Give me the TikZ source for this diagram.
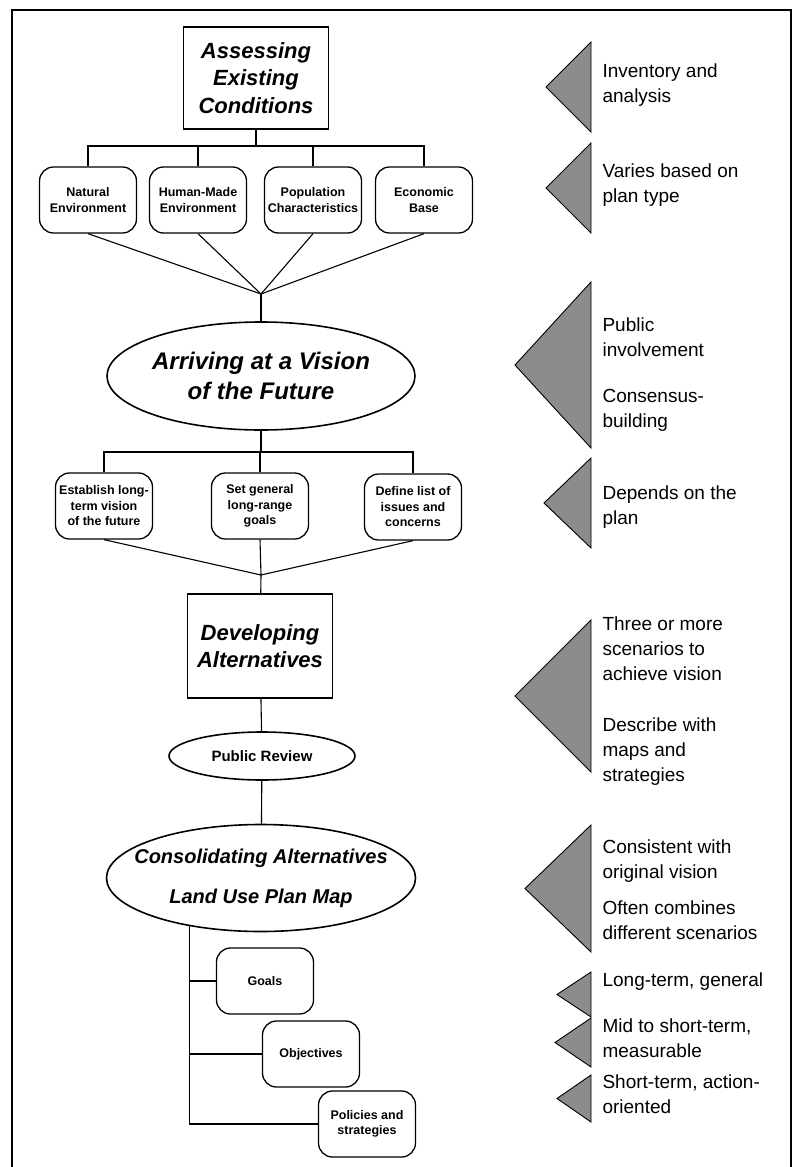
\documentclass[tikz,border=0pt]{standalone}
\usepackage{fontspec}
\setmainfont{Liberation Sans}
\usetikzlibrary{shapes.geometric}

\begin{document}
\begin{tikzpicture}[x=1pt,y=-1pt,line width=1.1pt,
  mainbox/.style={draw,line width=1.3pt,align=center,inner sep=0pt,font=\fontsize{22}{27.5}\selectfont\bfseries\itshape},
  mainoval/.style={draw,ellipse,line width=1.6pt,align=center,inner xsep=-18pt,inner ysep=0pt},
  subbox/.style={draw,rounded corners=14pt,line width=1.3pt,align=center,inner sep=0pt,minimum width=97,minimum height=66,font=\fontsize{12.5}{15.5}\selectfont\bfseries},
  note/.style={anchor=west,align=left,inner sep=0pt,font=\fontsize{19}{25}\selectfont},
  wedge/.style={draw,line width=0.9pt,fill=black!45}]
\useasboundingbox (0,0) rectangle (796,1167);
% outer frame
\draw[line width=2.4pt] (12,1167) -- (12,10) -- (791,10) -- (791,1167);

% existing conditions
\node[mainbox,minimum width=145,minimum height=102] (assess) at (256,78) {Assessing\\Existing\\Conditions};
\node[subbox] (natural) at (88,200) {Natural\\Environment};
\node[subbox] (humanmade) at (198,200) {Human-Made\\Environment};
\node[subbox] (population) at (313,200) {Population\\Characteristics};
\node[subbox] (economic) at (424,200) {Economic\\Base};
\coordinate (bar1) at (256,146);
\coordinate (join1) at (261,294);
\draw (assess) -- (bar1);
\draw (natural.north) |- (bar1) -| (economic.north);
\draw (humanmade.north) -- (humanmade.north |- bar1);
\draw (population.north) -- (population.north |- bar1);
\foreach \n in {natural,humanmade,population,economic}
  \draw (\n.south) -- (join1);

% vision
\node[mainoval,minimum width=308,minimum height=108,font=\fontsize{24}{30}\selectfont\bfseries\itshape] (vision) at (261,376) {Arriving at a Vision\\of the Future};
\draw (join1) -- (vision);
\node[subbox] (establish) at (104,506) {Establish long-\\term vision\\of the future};
\node[subbox] (setgoals) at (260,506) {Set general\\long-range\\goals};
\node[subbox] (define) at (413,507) {Define list of\\issues and\\concerns};
\coordinate (bar2) at (261,452);
\coordinate (join2) at (261,575);
\draw (vision) -- (bar2);
\draw (establish.north) |- (bar2) -| (define.north);
\draw (setgoals.north) -- (setgoals.north |- bar2);
\foreach \n in {establish,setgoals,define}
  \draw (\n.south) -- (join2);

% alternatives
\node[mainbox,minimum width=145,minimum height=104] (develop) at (260,646) {Developing\\Alternatives};
\node[mainoval,minimum width=186,minimum height=48,font=\fontsize{15}{18}\selectfont\bfseries] (review) at (262,756) {Public Review};
\node[mainoval,minimum width=309,minimum height=107,font=\fontsize{20}{40}\selectfont\bfseries\itshape] (consol) at (261,878) {Consolidating Alternatives\\Land Use Plan Map};
\draw (join2) -- (develop);
\draw (develop) -- (review);
\draw (review) -- (consol);

\node[subbox] (goals) at (265,981) {Goals};
\node[subbox] (objectives) at (311,1054) {Objectives};
\node[subbox] (policies) at (367,1124) {Policies and\\strategies};
\foreach \n in {goals,objectives,policies}
  \draw (consol.214) |- (\n.west);

% side notes
\foreach \tipx/\ya/\yb in {546/42/132,546/143/233,515/282/448,544/458/548,515/620/772,525/825/952,557/972/1017,555/1018/1067,557/1075/1122}
  \draw[wedge] (591,\ya) -- (\tipx,{(\ya+\yb)/2}) -- (591,\yb) -- cycle;

\node[note] (inventory) at (602,85) {Inventory and\\analysis};
\node[note] (varies) at (602,185) {Varies based on\\plan type};
\node[note] (public) at (602,337) {Public\\involvement};
\node[note] (consensus) at (602,410) {Consensus-\\building};
\node[note] (depends) at (602,507) {Depends on the\\plan};
\node[note] (scenarios) at (602,649) {Three or more\\scenarios to\\achieve vision};
\node[note] (describe) at (602,752) {Describe with\\maps and\\strategies};
\node[note] (consistent) at (602,861) {Consistent with\\original vision};
\node[note] (combines) at (602,920) {Often combines\\different scenarios};
\node[note] (longterm) at (602,982) {Long-term, general};
\node[note] (midterm) at (602,1038) {Mid to short-term,\\measurable};
\node[note] (shortterm) at (602,1094) {Short-term, action-\\oriented};
\end{tikzpicture}
\end{document}
